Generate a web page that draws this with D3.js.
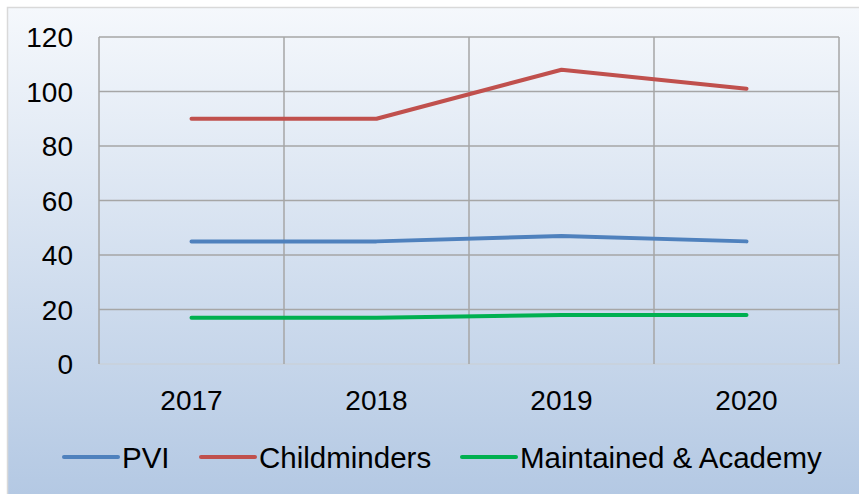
<!DOCTYPE html>
<html>
<head>
<meta charset="utf-8">
<script src="https://cdn.jsdelivr.net/npm/d3@7"></script>
<style>
  html, body { margin: 0; padding: 0; background: #fff; }
  svg { display: block; font-family: "Liberation Sans", Arial, sans-serif; }
</style>
</head>
<body>
<div id="chart"></div>
<script>
// data
const years = ["2017", "2018", "2019", "2020"];
const pvi = [45, 45, 47, 45];
const childminders = [90, 90, 108, 101];
const maintained = [17, 17, 18, 18];
const yTicks = [0, 20, 40, 60, 80, 100, 120];

const seriesNames = ["PVI", "Childminders", "Maintained & Academy"];
const seriesColors = ["#4f81bd", "#c0504d", "#00b050"];
const series = [pvi, childminders, maintained].map((vals, i) => ({
  name: seriesNames[i],
  color: seriesColors[i],
  values: vals.map((v, j) => ({ year: years[j], value: v }))
}));

const W = 859, H = 494;
const plot = { left: 99, top: 37, right: 839, bottom: 364 };
const fontSize = 28;
const legendFont = 29.5;

const svg = d3.select("#chart").append("svg")
  .attr("width", W)
  .attr("height", H);

// background gradient
const defs = svg.append("defs");
const grad = defs.append("linearGradient")
  .attr("id", "bg")
  .attr("x1", 0).attr("y1", 0).attr("x2", 0).attr("y2", 1);
grad.append("stop").attr("offset", "0%").attr("stop-color", "#f5f8fc");
grad.append("stop").attr("offset", "100%").attr("stop-color", "#b3c8e3");

svg.append("rect")
  .attr("x", 7.5).attr("y", 7.5)
  .attr("width", W).attr("height", H)
  .attr("fill", "url(#bg)")
  .attr("stroke", "#d9d9d9")
  .attr("stroke-width", 1.5);

const x = d3.scaleBand()
  .domain(years)
  .range([plot.left, plot.right]);

const y = d3.scaleLinear()
  .domain([0, 120])
  .range([plot.bottom, plot.top]);

// horizontal gridlines
svg.append("g")
  .selectAll("line")
  .data(yTicks)
  .join("line")
    .attr("x1", plot.left).attr("x2", plot.right)
    .attr("y1", d => y(d)).attr("y2", d => y(d))
    .attr("stroke", d => d === 0 ? "#c8d0da" : "#a6a6a6")
    .attr("stroke-width", 1.5);

// vertical gridlines at band edges
const xEdges = years.map(d => x(d)).concat([plot.right]);
svg.append("g")
  .selectAll("line")
  .data(xEdges)
  .join("line")
    .attr("x1", d => d).attr("x2", d => d)
    .attr("y1", plot.top).attr("y2", plot.bottom)
    .attr("stroke", "#a6a6a6")
    .attr("stroke-width", 1.5);

// y axis labels
svg.append("g")
  .selectAll("text")
  .data(yTicks)
  .join("text")
    .attr("x", 73)
    .attr("y", d => y(d))
    .attr("dy", "0.36em")
    .attr("text-anchor", "end")
    .attr("font-size", fontSize)
    .attr("fill", "#000")
    .text(d => d);

// x axis labels
svg.append("g")
  .selectAll("text")
  .data(years)
  .join("text")
    .attr("x", d => x(d) + x.bandwidth() / 2)
    .attr("y", 410)
    .attr("text-anchor", "middle")
    .attr("font-size", fontSize)
    .attr("fill", "#000")
    .text(d => d);

// lines
const line = d3.line()
  .x(d => x(d.year) + x.bandwidth() / 2)
  .y(d => y(d.value));

svg.append("g")
  .selectAll("path")
  .data(series)
  .join("path")
    .attr("d", d => line(d.values))
    .attr("fill", "none")
    .attr("stroke", d => d.color)
    .attr("stroke-width", 4)
    .attr("stroke-linecap", "round")
    .attr("stroke-linejoin", "round");

// legend
const legendX = [64, 201, 462];
const legendY = 457;
const lg = svg.append("g")
  .selectAll("g")
  .data(series)
  .join("g")
    .attr("transform", (d, i) => `translate(${legendX[i]},${legendY})`);

lg.append("line")
  .attr("x1", 0).attr("x2", 54)
  .attr("y1", 0).attr("y2", 0)
  .attr("stroke", d => d.color)
  .attr("stroke-width", 4)
  .attr("stroke-linecap", "round");

lg.append("text")
  .attr("x", 58)
  .attr("y", 0)
  .attr("dy", "0.36em")
  .attr("font-size", legendFont)
  .attr("fill", "#000")
  .text(d => d.name);
</script>
</body>
</html>
